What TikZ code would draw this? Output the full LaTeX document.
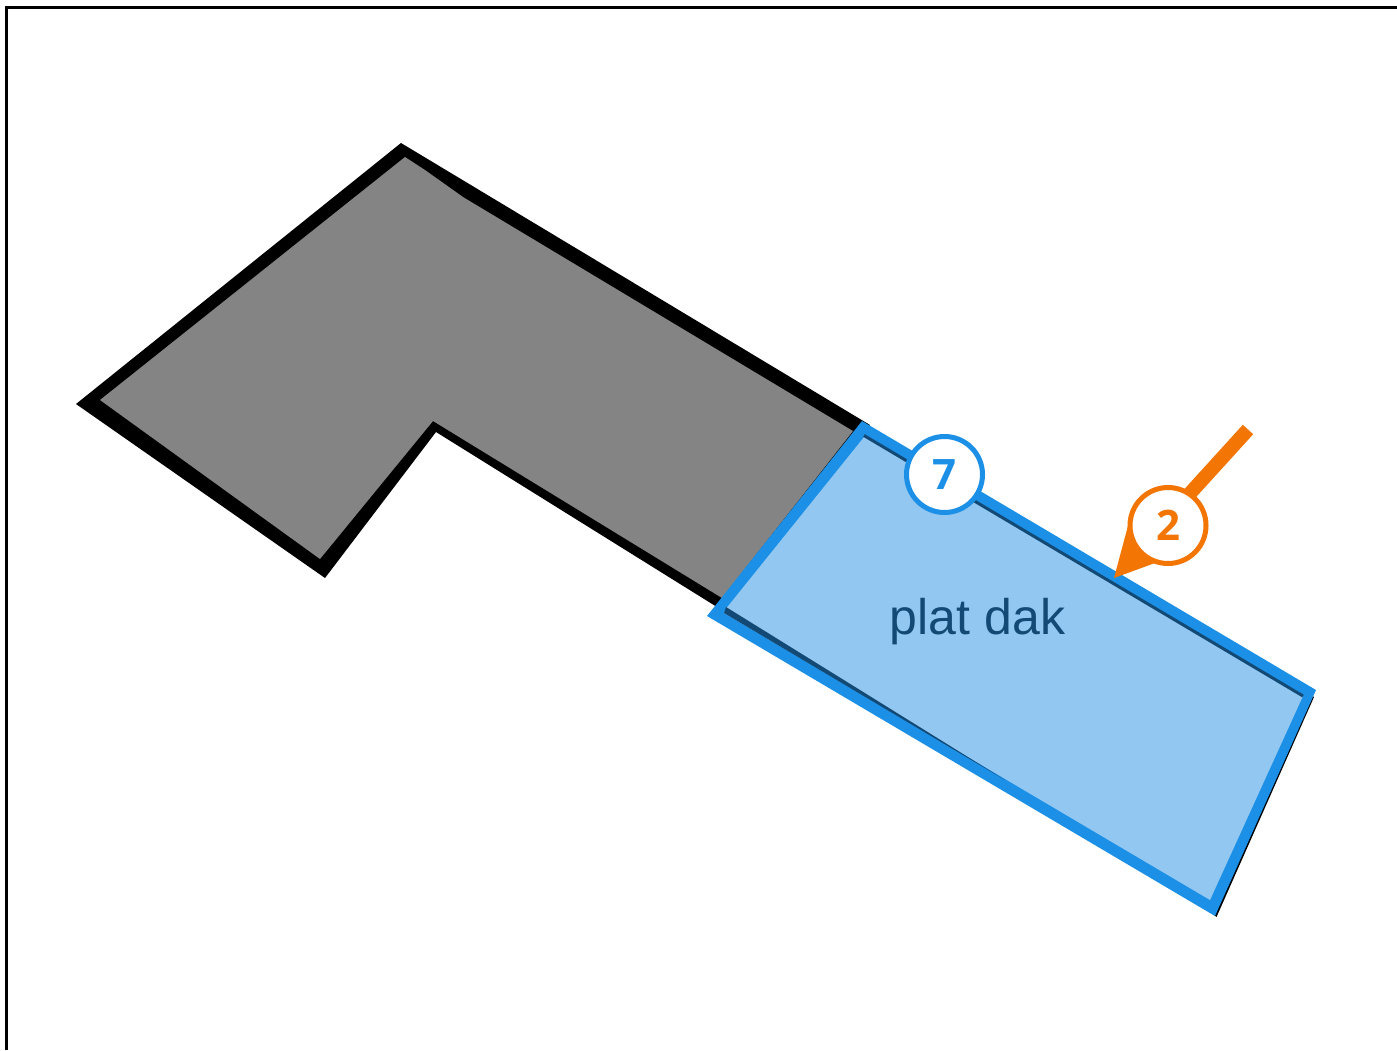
\documentclass[tikz,border=0pt]{standalone}
\usepackage{fontspec}
\setmainfont{Liberation Sans}
\newfontfamily\badgefont{Open Sans}
\definecolor{roofgray}{HTML}{848484}
\definecolor{roofblue}{HTML}{91C7F0}
\definecolor{edgeblue}{HTML}{1C90E6}
\definecolor{darkblue}{HTML}{124A75}
\definecolor{markorange}{HTML}{F37604}
\tikzset{
  badge/.style={circle,draw=#1,fill=white,line width=5pt,minimum size=76pt,inner sep=0pt,text=#1,font=\badgefont\bfseries\fontsize{42}{42}\selectfont},
}
\begin{document}
\begin{tikzpicture}[x=1pt,y=-1pt]
\useasboundingbox (0,0) rectangle (1397,1050);
\fill[white] (0,0) rectangle (1397,1050);
% frame
\draw[black,line width=2.8pt] (6.5,1050) -- (6.5,7.5) -- (1397,7.5);
% black outline of the whole roof
\fill[black] (76,404) -- (401,143) -- (870,425) -- (725,612) -- (436,432) -- (325,578) -- cycle;
% grey surface
\fill[roofgray] (100,400) -- (405,157) -- (425,170) -- (463,197) -- (853,431) -- (722,598) -- (433,421) -- (320,559) -- cycle;
% black edge along the right side of the flat roof
\fill[black] (1304,690) -- (1314,697) -- (1216.5,917) -- (1204,905) -- cycle;
% flat roof
\fill[edgeblue] (862,421) -- (1316,690) -- (1215,916) -- (707,616) -- cycle;
\fill[roofblue] (864.5,436.5) -- (1303,696) -- (1210,900) -- (724,613) -- (726.5,608) -- cycle;
\draw[darkblue,line width=3pt] (864,435.5) -- (1303,696);
\fill[darkblue] (726,607) -- (860,690) -- (1005,780) -- (724,613) -- cycle;
\node[text=darkblue,font=\fontsize{50}{50}\selectfont,anchor=base] (label) at (977.5,634) {plat dak};
% orange marker
\coordinate (tail) at (1248,429.5);
\coordinate (tailend) at (1178,506.5);
\coordinate (tip) at (1114,578);
\coordinate (wedgeA) at (1129,522);
\coordinate (wedgeB) at (1155,563);
\draw[markorange,line width=14pt] (tail) -- (tailend);
\fill[markorange] (tip) -- (wedgeA) -- (wedgeB) -- cycle;
\node[badge=markorange] (two) at (1168,525.5) {2};
\node[badge=edgeblue] (seven) at (944.5,474.5) {7};
\end{tikzpicture}
\end{document}
